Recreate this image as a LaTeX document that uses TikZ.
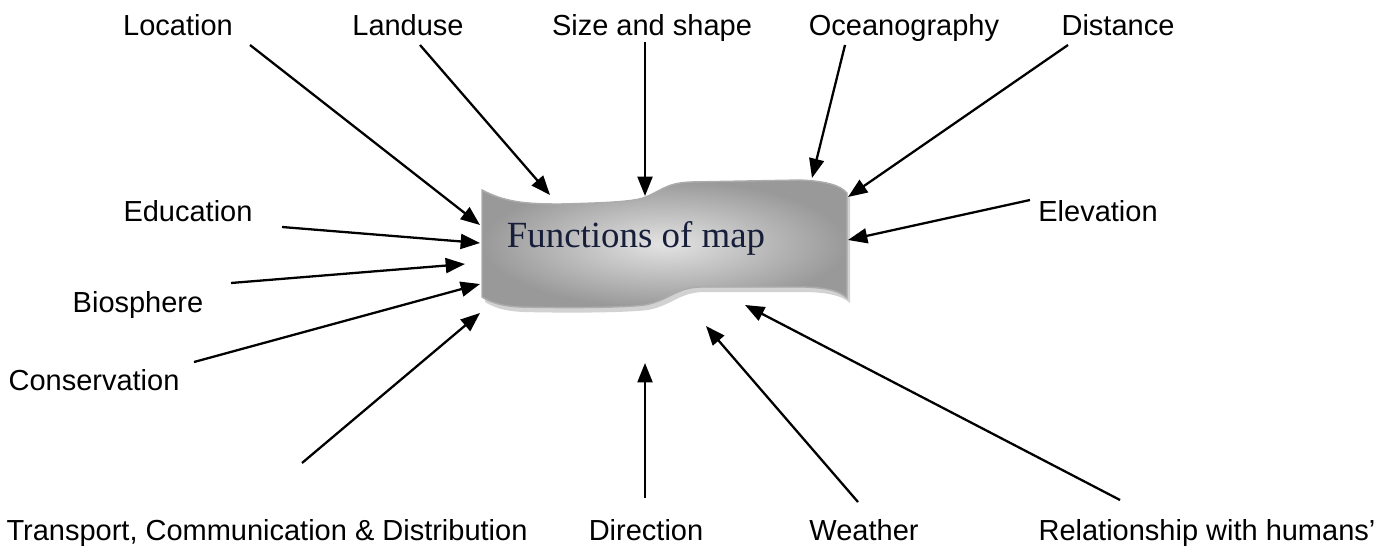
\documentclass[tikz,border=0pt]{standalone}
\usepackage{fontspec}
\setmainfont{Liberation Sans}
\newfontfamily\titlefont{Liberation Serif}
\usepackage{tikz}
\usetikzlibrary{arrows.meta, positioning, calc}
\definecolor{titleblue}{RGB}{22,30,58}
\tikzset{
  label/.style={font=\fontsize{16.5}{19}\selectfont, inner sep=0pt, text height=12pt, text depth=0pt, anchor=center},
  titletext/.style={font=\titlefont\fontsize{21}{24}\selectfont, text=titleblue, inner sep=0pt},
  banner/.style={draw=gray!65, line width=0.8pt, inner color=gray!22, outer color=gray!80},
  bannershadow/.style={fill=gray!35, draw=none},
  arrowline/.style={-{Triangle[length=11pt, width=8.5pt]}, line width=1.3pt},
}
\newcommand{\bannerpath}{(482,190) .. controls (505,202) and (525,204) .. (560,204)
  .. controls (600,203) and (630,202) .. (643,198)
  .. controls (660,192) and (665,183) .. (690,182)
  -- (800,180)
  .. controls (825,181) and (840,185) .. (847,193)
  -- (847,298)
  .. controls (838,290) and (825,288) .. (805,287)
  -- (700,287)
  .. controls (675,288) and (670,300) .. (645,305)
  .. controls (620,308) and (560,308) .. (520,307)
  .. controls (500,306) and (490,302) .. (482,297)
  -- cycle}

\begin{document}
\begin{tikzpicture}[x=0.02cm, y=-0.02cm]
\useasboundingbox (0,0) rectangle (1385,554);

% the banner
\fill[bannershadow, shift={(3,5)}] \bannerpath;
\shade[banner] \bannerpath;
\node[titletext] (title) at (636,238) {Functions of map};

% labels
\node[label] (location) at (178,25) {Location};
\node[label] (landuse) at (408,25) {Landuse};
\node[label] (size) at (652,25) {Size and shape};
\node[label] (ocean) at (904,25) {Oceanography};
\node[label] (distance) at (1118,25) {Distance};
\node[label] (education) at (188,211) {Education};
\node[label] (elevation) at (1098,211) {Elevation};
\node[label] (biosphere) at (138,302) {Biosphere};
\node[label] (conservation) at (94,380) {Conservation};
\node[label] (transport) at (267,530) {Transport, Communication \& Distribution};
\node[label] (direction) at (646,530) {Direction};
\node[label] (weather) at (864,530) {Weather};
\node[label] (relation) at (1207,530) {Relationship with humans'};

% arrow ends
\coordinate (location-s) at (250,45);   \coordinate (location-e) at (480,225);
\coordinate (landuse-s) at (420,45);    \coordinate (landuse-e) at (550,195);
\coordinate (size-s) at (645,42);       \coordinate (size-e) at (645,196);
\coordinate (ocean-s) at (845,45);      \coordinate (ocean-e) at (812,178);
\coordinate (distance-s) at (1068,45);  \coordinate (distance-e) at (848,197);
\coordinate (education-s) at (282,227); \coordinate (education-e) at (480,243);
\coordinate (elevation-s) at (1030,200); \coordinate (elevation-e) at (848,240);
\coordinate (biosphere-s) at (231,283); \coordinate (biosphere-e) at (465,264);
\coordinate (conservation-s) at (194,362); \coordinate (conservation-e) at (480,284);
\coordinate (transport-s) at (302,463); \coordinate (transport-e) at (480,313);
\coordinate (direction-s) at (645,498); \coordinate (direction-e) at (645,363);
\coordinate (weather-s) at (858,502);   \coordinate (weather-e) at (706,326);
\coordinate (relation-s) at (1120,500); \coordinate (relation-e) at (745,305);

\draw[arrowline] (location-s) -- (location-e);
\draw[arrowline] (landuse-s) -- (landuse-e);
\draw[arrowline] (size-s) -- (size-e);
\draw[arrowline] (ocean-s) -- (ocean-e);
\draw[arrowline] (distance-s) -- (distance-e);
\draw[arrowline] (education-s) -- (education-e);
\draw[arrowline] (elevation-s) -- (elevation-e);
\draw[arrowline] (biosphere-s) -- (biosphere-e);
\draw[arrowline] (conservation-s) -- (conservation-e);
\draw[arrowline] (transport-s) -- (transport-e);
\draw[arrowline] (direction-s) -- (direction-e);
\draw[arrowline] (weather-s) -- (weather-e);
\draw[arrowline] (relation-s) -- (relation-e);
\end{tikzpicture}
\end{document}
